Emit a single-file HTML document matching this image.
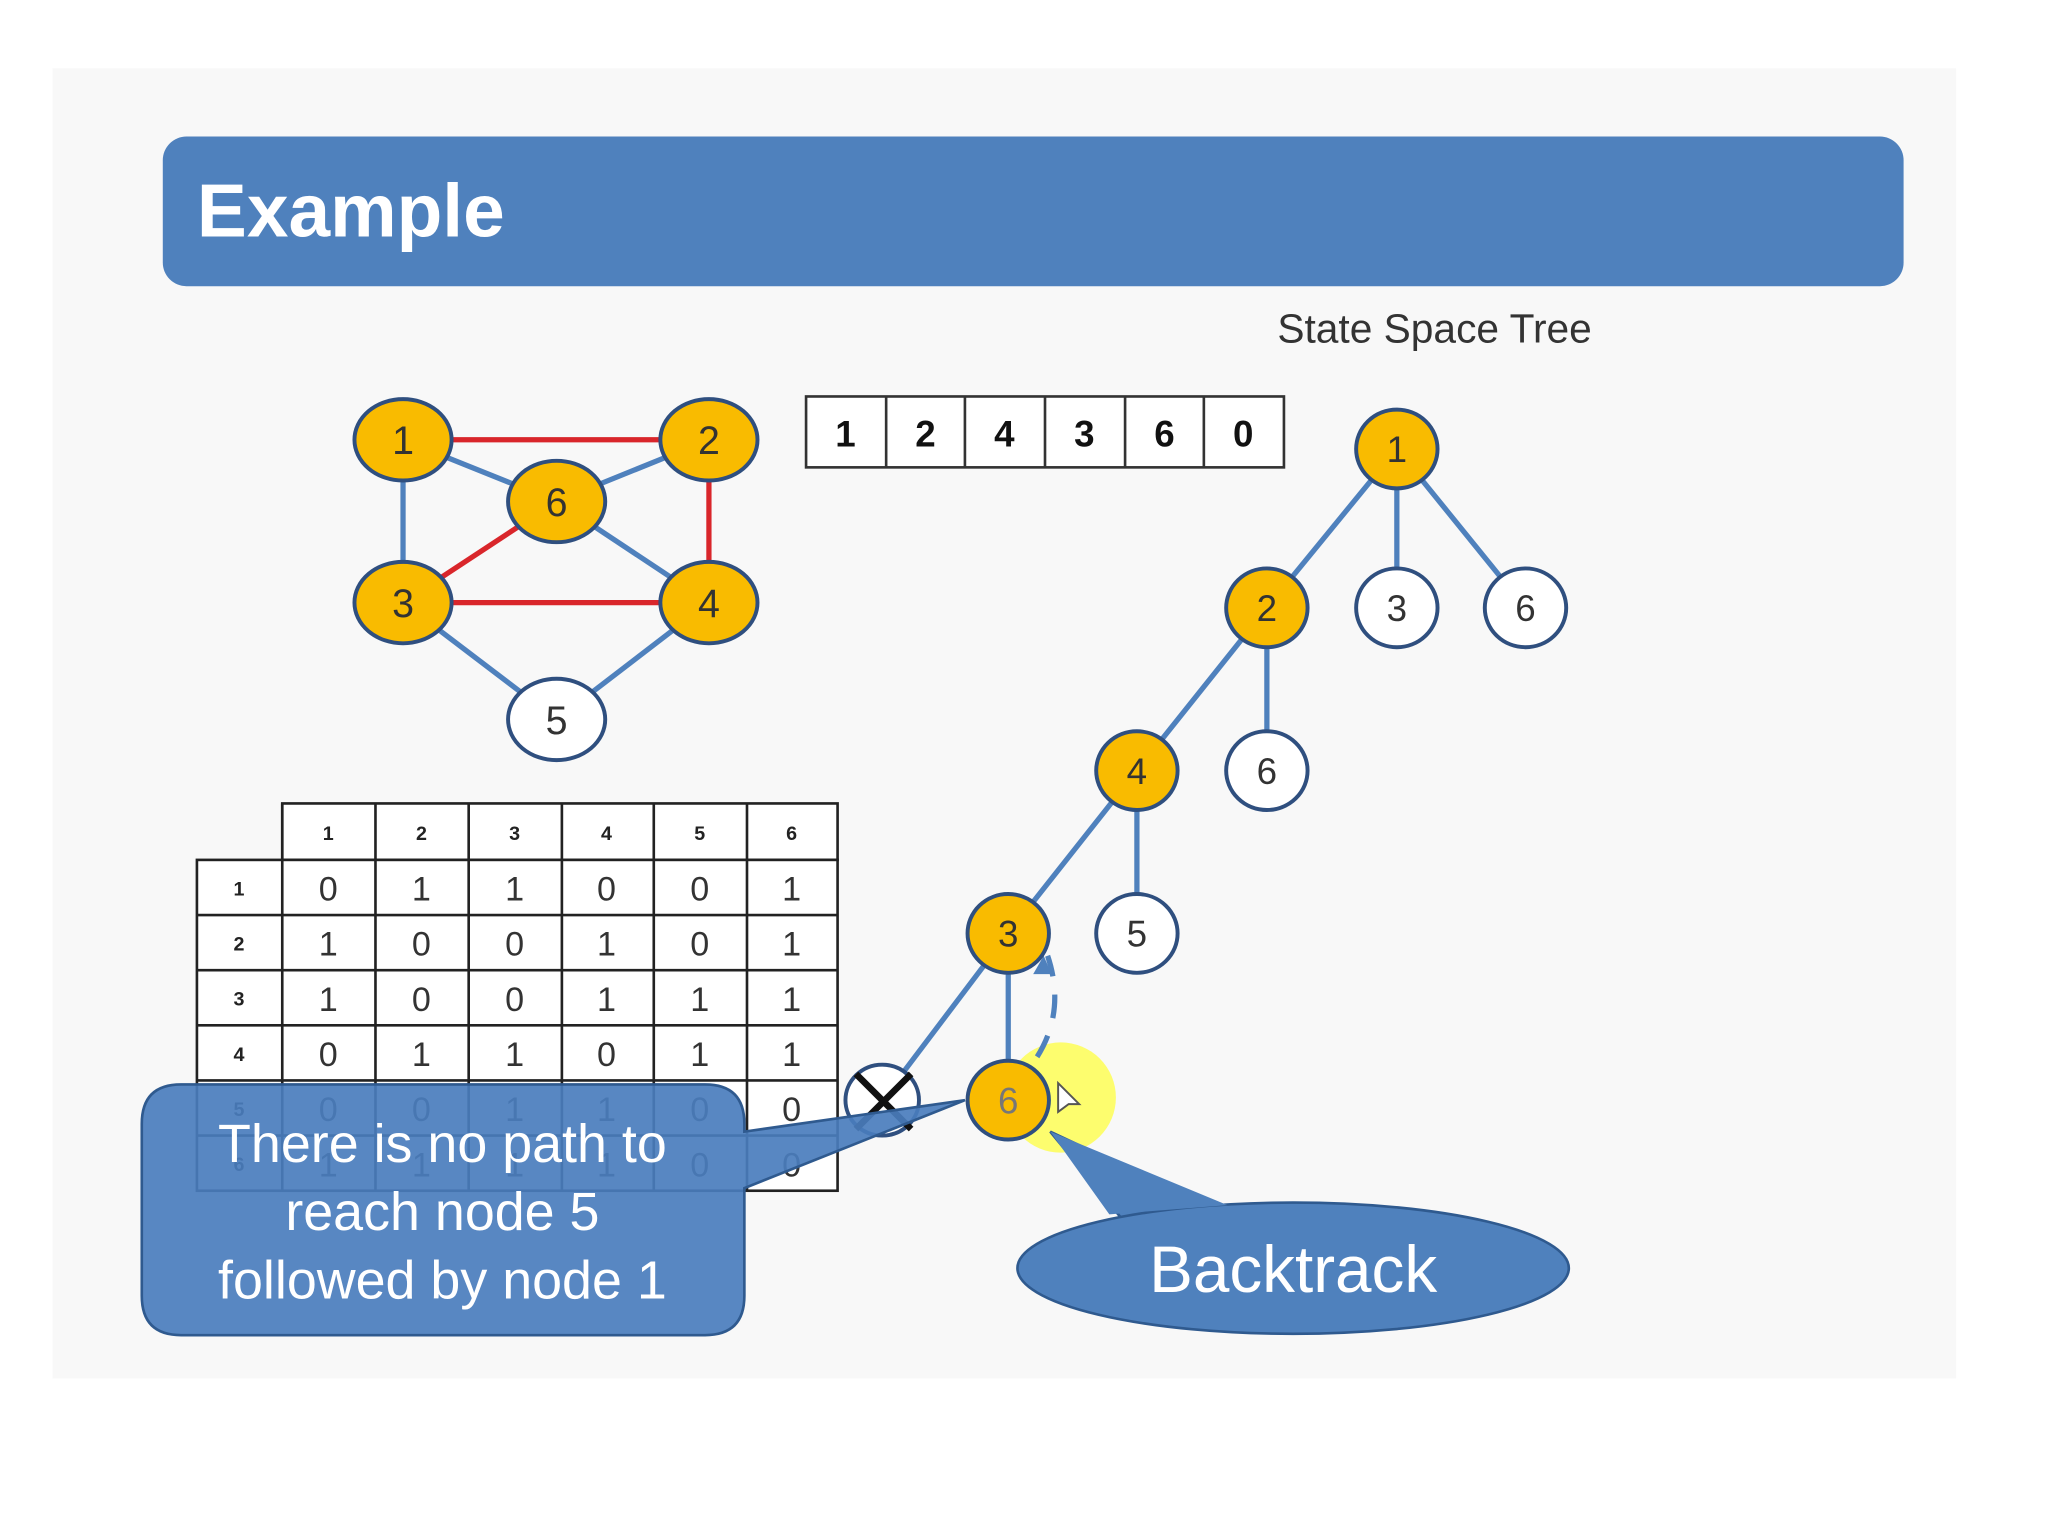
<!DOCTYPE html>
<html><head><style>
html,body{margin:0;padding:0;background:#fff;}
svg{display:block;}
text{font-family:"Liberation Sans",sans-serif;}
</style></head><body>
<svg width="2048" height="1536" viewBox="0 0 1560 1170" xmlns="http://www.w3.org/2000/svg">
<rect x="0" y="0" width="1560" height="1170" fill="#fff"/>
<rect x="40" y="52" width="1450" height="998" fill="#f8f8f8"/>
<rect x="124" y="104" width="1326" height="114" rx="18" fill="#4f81bd"/>
<text x="150" y="180" font-size="57" font-weight="bold" fill="#fff">Example</text>
<text x="973" y="261" font-size="31" fill="#333">State Space Tree</text>
<g stroke="#333" stroke-width="2" fill="#fff">
<rect x="614" y="302" width="364" height="54"/>
<line x1="675" y1="302" x2="675" y2="356"/><line x1="735" y1="302" x2="735" y2="356"/>
<line x1="796" y1="302" x2="796" y2="356"/><line x1="857" y1="302" x2="857" y2="356"/>
<line x1="917" y1="302" x2="917" y2="356"/>
</g>
<g font-size="28" font-weight="bold" text-anchor="middle" fill="#111">
<text x="644" y="340">1</text><text x="705" y="340">2</text><text x="765" y="340">4</text><text x="826" y="340">3</text><text x="887" y="340">6</text><text x="947" y="340">0</text>
</g>
<g stroke-width="4">
<line x1="307" y1="335" x2="540" y2="335" stroke="#d9262b"/>
<line x1="540" y1="335" x2="540" y2="459" stroke="#d9262b"/>
<line x1="307" y1="459" x2="540" y2="459" stroke="#d9262b"/>
<line x1="307" y1="459" x2="424" y2="382" stroke="#d9262b"/>
<g stroke="#4f81bd">
<line x1="307" y1="335" x2="424" y2="382"/><line x1="540" y1="335" x2="424" y2="382"/>
<line x1="307" y1="335" x2="307" y2="459"/><line x1="424" y1="382" x2="540" y2="459"/>
<line x1="307" y1="459" x2="424" y2="548"/><line x1="540" y1="459" x2="424" y2="548"/>
</g></g>
<g stroke="#2f4f7f" stroke-width="3">
<ellipse cx="307" cy="335" rx="37" ry="31" fill="#f9bb00"/>
<ellipse cx="540" cy="335" rx="37" ry="31" fill="#f9bb00"/>
<ellipse cx="424" cy="382" rx="37" ry="31" fill="#f9bb00"/>
<ellipse cx="307" cy="459" rx="37" ry="31" fill="#f9bb00"/>
<ellipse cx="540" cy="459" rx="37" ry="31" fill="#f9bb00"/>
<ellipse cx="424" cy="548" rx="37" ry="31" fill="#fff"/>
</g>
<g font-size="30" text-anchor="middle" fill="#333">
<text x="307" y="346">1</text><text x="540" y="346">2</text><text x="424" y="393">6</text>
<text x="307" y="470">3</text><text x="540" y="470">4</text><text x="424" y="559">5</text>
</g>
<g stroke="#4f81bd" stroke-width="4">
<line x1="1064" y1="342" x2="965" y2="463"/><line x1="1064" y1="342" x2="1064" y2="463"/><line x1="1064" y1="342" x2="1162" y2="463"/>
<line x1="965" y1="463" x2="866" y2="587"/><line x1="965" y1="463" x2="965" y2="587"/>
<line x1="866" y1="587" x2="768" y2="711"/><line x1="866" y1="587" x2="866" y2="711"/>
<line x1="768" y1="711" x2="768" y2="838"/><line x1="768" y1="711" x2="672" y2="838"/>
</g>
<circle cx="808" cy="836" r="42" fill="#ffff33" opacity="0.7"/>
<path d="M790 805 Q812 770 798 728" stroke="#4f81bd" stroke-width="4" fill="none" stroke-dasharray="18 14"/>
<path d="M795 728 l-8 14 l14 0 z" fill="#4f81bd"/>
<g stroke="#2f4f7f" stroke-width="3">
<ellipse cx="1064" cy="342" rx="31" ry="30" fill="#f9bb00"/>
<ellipse cx="965" cy="463" rx="31" ry="30" fill="#f9bb00"/>
<ellipse cx="1064" cy="463" rx="31" ry="30" fill="#fff"/>
<ellipse cx="1162" cy="463" rx="31" ry="30" fill="#fff"/>
<ellipse cx="866" cy="587" rx="31" ry="30" fill="#f9bb00"/>
<ellipse cx="965" cy="587" rx="31" ry="30" fill="#fff"/>
<ellipse cx="768" cy="711" rx="31" ry="30" fill="#f9bb00"/>
<ellipse cx="866" cy="711" rx="31" ry="30" fill="#fff"/>
<ellipse cx="768" cy="838" rx="31" ry="30" fill="#f9bb00"/>
<ellipse cx="672" cy="838" rx="28" ry="27" fill="#fff"/>
</g>
<g stroke="#111" stroke-width="5"><line x1="652" y1="818" x2="694" y2="860"/><line x1="694" y1="818" x2="652" y2="860"/></g>
<g font-size="28" text-anchor="middle" fill="#333">
<text x="1064" y="352">1</text><text x="965" y="473">2</text><text x="1064" y="473">3</text><text x="1162" y="473">6</text>
<text x="866" y="597">4</text><text x="965" y="597">6</text><text x="768" y="721">3</text><text x="866" y="721">5</text>
<text x="768" y="848" fill="#777">6</text>
</g>
<path d="M806 847 l0 -22 l16 16 l-8 0 z" fill="#fff" stroke="#555" stroke-width="1.5"/>
<g stroke="#222" stroke-width="2" fill="#fff">
<rect x="215" y="612" width="423" height="43"/>
<rect x="150" y="655" width="488" height="252"/>
</g>
<g stroke="#222" stroke-width="2">
<line x1="215" y1="612" x2="215" y2="907"/><line x1="286" y1="612" x2="286" y2="907"/>
<line x1="357" y1="612" x2="357" y2="907"/><line x1="428" y1="612" x2="428" y2="907"/>
<line x1="498" y1="612" x2="498" y2="907"/><line x1="569" y1="612" x2="569" y2="907"/>
<line x1="150" y1="697" x2="638" y2="697"/><line x1="150" y1="739" x2="638" y2="739"/>
<line x1="150" y1="781" x2="638" y2="781"/><line x1="150" y1="823" x2="638" y2="823"/>
<line x1="150" y1="865" x2="638" y2="865"/>
</g>
<g font-size="15" font-weight="bold" text-anchor="middle" fill="#222">
<text x="250" y="640">1</text><text x="321" y="640">2</text><text x="392" y="640">3</text><text x="462" y="640">4</text><text x="533" y="640">5</text><text x="603" y="640">6</text>
<text x="182" y="682">1</text><text x="182" y="724">2</text><text x="182" y="766">3</text><text x="182" y="808">4</text><text x="182" y="850">5</text><text x="182" y="892">6</text>
</g>
<g font-size="26" text-anchor="middle" fill="#333">
<text x="250" y="686">0</text><text x="321" y="686">1</text><text x="392" y="686">1</text><text x="462" y="686">0</text><text x="533" y="686">0</text><text x="603" y="686">1</text>
<text x="250" y="728">1</text><text x="321" y="728">0</text><text x="392" y="728">0</text><text x="462" y="728">1</text><text x="533" y="728">0</text><text x="603" y="728">1</text>
<text x="250" y="770">1</text><text x="321" y="770">0</text><text x="392" y="770">0</text><text x="462" y="770">1</text><text x="533" y="770">1</text><text x="603" y="770">1</text>
<text x="250" y="812">0</text><text x="321" y="812">1</text><text x="392" y="812">1</text><text x="462" y="812">0</text><text x="533" y="812">1</text><text x="603" y="812">1</text>
<text x="250" y="854">0</text><text x="321" y="854">0</text><text x="392" y="854">1</text><text x="462" y="854">1</text><text x="533" y="854">0</text><text x="603" y="854">0</text>
<text x="250" y="896">1</text><text x="321" y="896">1</text><text x="392" y="896">1</text><text x="462" y="896">1</text><text x="533" y="896">0</text><text x="603" y="896">0</text>
</g>
<path d="M138 826 H537 Q567 826 567 856 V862 L735 838 L567 905 V987 Q567 1017 537 1017 H138 Q108 1017 108 987 V856 Q108 826 138 826 Z" fill="#4a7dbd" fill-opacity="0.92" stroke="#2f5a8f" stroke-width="2"/>
<g font-size="41" text-anchor="middle" fill="#fff">
<text x="337" y="885">There is no path to</text>
<text x="337" y="937">reach node 5</text>
<text x="337" y="989">followed by node 1</text>
</g>
<path d="M800 862 L945 930 L860 935 Z" fill="#4f81bd" stroke="#2f5a8f" stroke-width="2"/>
<ellipse cx="985" cy="966" rx="210" ry="50" fill="#4f81bd" stroke="#2f5a8f" stroke-width="2"/>
<path d="M845 925 L800 862 L935 918" fill="#4f81bd"/>
<text x="985" y="984" font-size="50" text-anchor="middle" fill="#fff">Backtrack</text>
</svg>
</body></html>
